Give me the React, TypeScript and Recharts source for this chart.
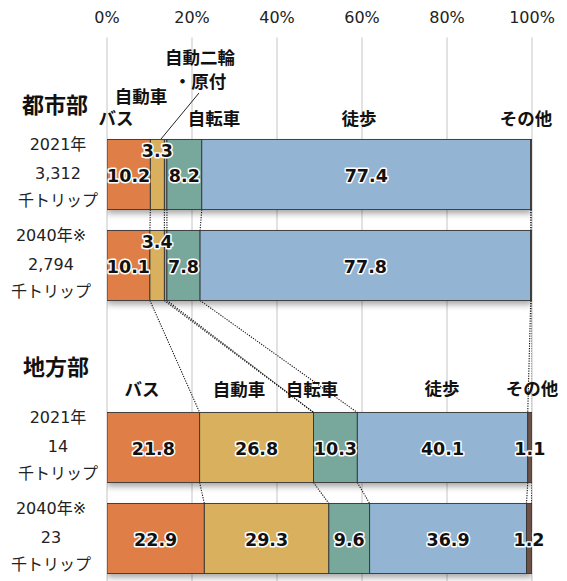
import React from 'react';
import { BarChart, Bar, XAxis, YAxis, CartesianGrid, LabelList } from 'recharts';

// rows of the chart: a header row, urban 2021/2040, a spacer, rural 2021/2040
const ROWS = ['head', 'u2021', 'u2040', 'gap', 'r2021', 'r2040'];
const CATEGORIES = ['バス', '自動車', '自動二輪・原付', '自転車', '徒歩', 'その他'];
const BUS = [null, 10.2, 10.1, null, 21.8, 22.9];
const CAR = [null, 3.3, 3.4, null, 26.8, 29.3];
const MOTO = [null, 0.6, 0.6, null, 0, 0];
const BIKE = [null, 8.2, 7.8, null, 10.3, 9.6];
const WALK = [null, 77.4, 77.8, null, 40.1, 36.9];
const OTHER = [null, 0.3, 0.3, null, 1.1, 1.2];
const YEAR_LABELS = ['', '2021年', '2040年※', '', '2021年', '2040年※'];
const TRIPS = ['', '3,312', '2,794', '', '14', '23'];
const TRIP_UNIT = '千トリップ';
const X_TICKS = [0, 20, 40, 60, 80, 100];
const GROUPS = ['都市部', '地方部'];

// which row each bar's dotted connectors lead to
const NEXT_ROW = [-1, 2, 4, -1, 5, -1];

const SERIES = [BUS, CAR, MOTO, BIKE, WALK, OTHER];
const COLORS = ['#df7e46', '#d9b15e', '#a3a3a3', '#78a89b', '#93b5d3', '#6d5046'];

const data = ROWS.map((row, i) => {
  const d: any = { row };
  SERIES.forEach((s, k) => {
    d['s' + k] = s[i];
  });
  return d;
});

const cum = (row: number, k: number) => {
  let t = 0;
  for (let j = 0; j <= k; j++) t += SERIES[j][row] || 0;
  return t;
};

// layout
const W = 567;
const H = 584;
const MARGIN = { top: 0, right: 35, bottom: 0.5, left: 0 };
const XAXIS_H = 37.5;
const YAXIS_W = 107;
const BAR_SIZE = 70;
const PLOT_LEFT = MARGIN.left + YAXIS_W;
const PLOT_W = W - MARGIN.left - MARGIN.right - YAXIS_W;
const BAND = (H - MARGIN.top - MARGIN.bottom - XAXIS_H) / ROWS.length;

const JP = '"Noto Sans CJK JP", "Noto Sans", sans-serif';
const NUM = '"DejaVu Sans", "Noto Sans CJK JP", sans-serif';

// header labels (urban row then rural row)
const URBAN_HEAD_POS = [
  { x: 116, y: 117 },
  { x: 141, y: 95 },
  { x: 200, y: 56 },
  { x: 214, y: 117 },
  { x: 359, y: 117 },
  { x: 526, y: 117 },
];
const RURAL_HEAD_POS = [
  { x: 142, y: 388 },
  { x: 239, y: 388 },
  null,
  { x: 312, y: 388 },
  { x: 442, y: 387 },
  { x: 532, y: 387 },
];
const GROUP_POS = [
  { x: 55, y: 103 },
  { x: 56, y: 365 },
];

const makeSegment = (k: number) => (props: any) => {
  const { x, y, width, height, index } = props;
  const v = SERIES[k][index];
  if (v == null || !height) return <g />;
  const bg = props.background;
  const left = bg && bg.width ? bg.x : PLOT_LEFT;
  const pw = bg && bg.width ? bg.width : PLOT_W;
  const next = NEXT_ROW[index];
  return (
    <g>
      {k === 0 && (
        <rect x={left} y={y} width={pw} height={height} fill="#fff" filter="url(#barShadow)" />
      )}
      {width > 0 && (
        <rect x={x} y={y} width={width} height={height} fill={COLORS[k]} stroke="#333" strokeWidth={0.9} />
      )}
      {next >= 0 && v > 0 && (
        <line
          x1={x + width}
          y1={y + height}
          x2={left + (cum(next, k) / 100) * pw}
          y2={y + (next - index) * BAND}
          stroke="#111"
          strokeWidth={1.1}
          strokeDasharray="1.2 1.3"
        />
      )}
    </g>
  );
};

const makeLabel = (k: number) => (props: any) => {
  const { x, y, width, height } = props;
  const value = Number(props.value);
  if (props.value == null || isNaN(value) || value < 1) return <g />;
  const raised = k === 1 && value < 5;
  return (
    <text
      x={x + width / 2}
      y={y + height / 2 + (raised ? -24 : 1)}
      textAnchor="middle"
      dominantBaseline="central"
      fontFamily={NUM}
      fontWeight="bold"
      fontSize={17.5}
      fill="#111"
      stroke="#fff"
      strokeWidth={3}
      strokeLinejoin="round"
      paintOrder="stroke"
    >
      {value.toFixed(1)}
    </text>
  );
};

const RowTick = (props: any) => {
  const { y, payload } = props;
  const i = ROWS.indexOf(payload.value);
  if (i < 0 || !YEAR_LABELS[i]) return <g />;
  const cx = YEAR_LABELS[i].includes('※') ? 51 : 58;
  return (
    <g fontFamily={NUM} fontSize={16} fill="#222" textAnchor="middle">
      <text x={cx} y={y - 30} dominantBaseline="central">{YEAR_LABELS[i]}</text>
      <text x={cx} y={y - 1} dominantBaseline="central">{TRIPS[i]}</text>
      <text x={cx} y={y + 26} dominantBaseline="central">{TRIP_UNIT}</text>
    </g>
  );
};

const PctTick = (props: any) => {
  const { x, payload } = props;
  return (
    <text x={x} y={17} textAnchor="middle" dominantBaseline="central" fontFamily={NUM} fontSize={16} fill="#222">
      {payload.value}%
    </text>
  );
};

const headLabel = (k: number, pos: { x: number; y: number }, key: string) => {
  const name = CATEGORIES[k];
  if (name.includes('・')) {
    const [a, b] = name.split('・');
    return (
      <g key={key}>
        <text x={pos.x} y={pos.y}>{a}</text>
        <text x={pos.x} y={pos.y + 24}>{'・' + b}</text>
      </g>
    );
  }
  return (
    <text key={key} x={pos.x} y={pos.y}>
      {name}
    </text>
  );
};

export default function App() {
  return (
    <div style={{ position: 'absolute', left: 0, top: 0, width: W, height: 581, overflow: 'hidden', background: '#fff' }}>
      <svg width={0} height={0} style={{ position: 'absolute' }}>
        <defs>
          <filter id="barShadow" x="-5%" y="-20%" width="110%" height="150%">
            <feDropShadow dx={0} dy={4} stdDeviation={3} floodColor="#000" floodOpacity={0.35} />
          </filter>
        </defs>
      </svg>
      <BarChart width={W} height={H} data={data} layout="vertical" margin={MARGIN}>
        <CartesianGrid horizontal={false} stroke="#d9d9d9" strokeWidth={1.5} />
        <XAxis
          type="number"
          orientation="top"
          domain={[0, 100]}
          ticks={X_TICKS}
          allowDataOverflow
          height={XAXIS_H}
          axisLine={false}
          tickLine={false}
          tick={<PctTick />}
        />
        <YAxis
          type="category"
          dataKey="row"
          width={YAXIS_W}
          axisLine={false}
          tickLine={false}
          interval={0}
          tick={<RowTick />}
        />
        {SERIES.map((_, k) => (
          <Bar
            key={k}
            dataKey={'s' + k}
            name={CATEGORIES[k]}
            stackId="a"
            barSize={BAR_SIZE}
            fill={COLORS[k]}
            shape={makeSegment(k)}
            isAnimationActive={false}
          >
            <LabelList dataKey={'s' + k} content={makeLabel(k)} />
          </Bar>
        ))}
      </BarChart>
      <svg
        width={W}
        height={581}
        style={{ position: 'absolute', left: 0, top: 0, pointerEvents: 'none' }}
      >
        <g fontFamily={JP} fontWeight="bold" fill="#111" textAnchor="middle" dominantBaseline="central">
          {GROUPS.map((g, i) => (
            <text key={g} x={GROUP_POS[i].x} y={GROUP_POS[i].y} fontSize={22}>
              {g}
            </text>
          ))}
          <g fontSize={17.5}>
            {URBAN_HEAD_POS.map((p, k) => (p ? headLabel(k, p, 'u' + k) : null))}
            {RURAL_HEAD_POS.map((p, k) => (p ? headLabel(k, p, 'r' + k) : null))}
          </g>
        </g>
        <line x1={199} y1={93} x2={161} y2={139} stroke="#222" strokeWidth={1} />
      </svg>
    </div>
  );
}
